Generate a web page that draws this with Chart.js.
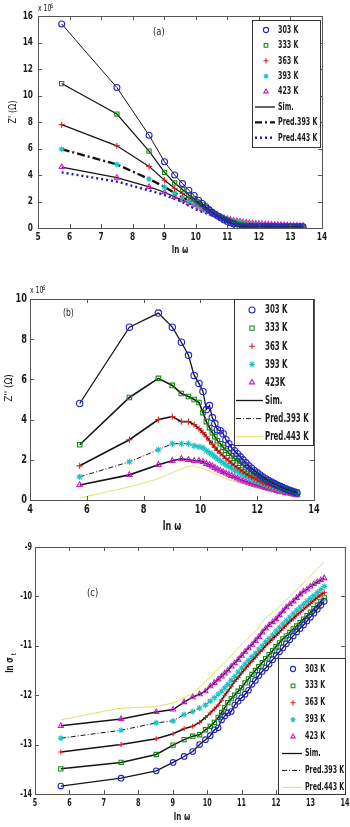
<!DOCTYPE html>
<html>
<head>
<meta charset="utf-8">
<script src="https://cdn.jsdelivr.net/npm/chart.js@4.4.1/dist/chart.umd.min.js"></script>
<style>
  html, body { margin: 0; padding: 0; background: #fff; }
  body { width: 350px; height: 827px; position: relative; overflow: hidden; }
  .panel { position: absolute; left: 0; width: 350px; }
</style>
</head>
<body>
<div class="panel" style="top:0;height:270px"><canvas id="chartA" width="350" height="270"></canvas></div>
<div class="panel" style="top:270px;height:270px"><canvas id="chartB" width="350" height="270"></canvas></div>
<div class="panel" style="top:540px;height:287px"><canvas id="chartC" width="350" height="287"></canvas></div>
<script>
// ln(omega) of the measured points (shared by all temperatures)
const lnW = [5.75, 7.5, 8.52, 9.01, 9.33, 9.58, 9.78, 9.95, 10.09, 10.21, 10.32, 10.42, 10.51, 10.6, 10.7, 10.8, 10.9,
  11.0, 11.1, 11.2, 11.3, 11.4, 11.5, 11.6, 11.7, 11.8, 11.9, 12.0, 12.1, 12.2, 12.3, 12.4, 12.5, 12.6, 12.7, 12.8,
  12.9, 13.0, 13.1, 13.2, 13.3, 13.4];
const temps = ['303 K', '333 K', '363 K', '393 K', '423 K'];

// (a) Z' x 10^6 ohm
const zRe303 = [15.4, 10.6, 7.0, 5.0, 4.0, 3.35, 2.85, 2.45, 2.1, 1.85, 1.6, 1.4, 1.2, 1.05, 0.9, 0.75, 0.6, 0.5, 0.4, 0.3,
  0.15, 0.12, 0.1, 0.1, 0.1, 0.1, 0.1, 0.1, 0.1, 0.1, 0.1, 0.1, 0.1, 0.1, 0.1, 0.1, 0.1, 0.1, 0.1, 0.1, 0.1, 0.1];
const zRe333 = [10.9, 8.6, 5.8, 4.2, 3.4, 2.9, 2.5, 2.2, 1.95, 1.75, 1.55, 1.38, 1.22, 1.08, 0.93, 0.8, 0.68, 0.57, 0.47,
  0.38, 0.3, 0.25, 0.2, 0.18, 0.16, 0.15, 0.14, 0.13, 0.12, 0.12, 0.11, 0.11, 0.1, 0.1, 0.1, 0.1, 0.1, 0.1, 0.1, 0.1, 0.1, 0.1];
const zRe363 = [7.8, 6.2, 4.65, 3.6, 3.0, 2.6, 2.3, 2.05, 1.85, 1.65, 1.5, 1.35, 1.2, 1.07, 0.95, 0.83, 0.72, 0.62, 0.53,
  0.45, 0.38, 0.33, 0.29, 0.26, 0.23, 0.21, 0.19, 0.18, 0.17, 0.16, 0.15, 0.14, 0.13, 0.12, 0.12, 0.11, 0.11, 0.1, 0.1, 0.1, 0.1, 0.1];
const zRe393 = [5.95, 4.8, 3.7, 3.1, 2.65, 2.3, 2.05, 1.85, 1.68, 1.52, 1.4, 1.28, 1.16, 1.05, 0.94, 0.84, 0.75, 0.67,
  0.59, 0.52, 0.46, 0.41, 0.36, 0.32, 0.28, 0.25, 0.22, 0.2, 0.18, 0.16, 0.14, 0.13, 0.12, 0.11, 0.1, 0.09, 0.08, 0.08,
  0.07, 0.07, 0.06, 0.06];
const zRe423 = [4.6, 3.8, 3.1, 2.7, 2.35, 2.1, 1.9, 1.72, 1.57, 1.43, 1.32, 1.21, 1.1, 1.0, 0.92, 0.84, 0.76, 0.69, 0.63,
  0.57, 0.52, 0.48, 0.44, 0.41, 0.38, 0.36, 0.34, 0.32, 0.3, 0.28, 0.27, 0.26, 0.25, 0.24, 0.23, 0.22, 0.21, 0.2, 0.19,
  0.18, 0.17, 0.16];
const predReX = [5.75, 7.5, 8.5, 9.0, 9.5, 10.0, 10.5, 11.0, 11.5, 12.0, 12.5, 13.0, 13.4];
const predRe443 = [4.2, 3.5, 2.85, 2.5, 2.05, 1.4, 0.95, 0.6, 0.35, 0.2, 0.13, 0.1, 0.08];

// (b) Z'' x 10^6 ohm
const zIm303 = [4.8, 8.6, 9.3, 8.6, 7.85, 7.2, 6.2, 5.8, 5.4, 4.5, 4.7, 4.1, 3.8, 3.5, 3.45, 3.3, 3.0, 2.8, 2.6, 2.45,
  2.3, 2.15, 2.0, 1.85, 1.7, 1.58, 1.46, 1.35, 1.25, 1.15, 1.05, 0.97, 0.89, 0.82, 0.75, 0.68, 0.62, 0.56, 0.5, 0.45, 0.4, 0.35];
const zIm333 = [2.75, 5.1, 6.05, 5.7, 5.3, 5.15, 5.0, 4.85, 4.35, 3.9, 3.6, 3.35, 3.15, 2.95, 2.8, 2.62, 2.47, 2.33, 2.2,
  2.07, 1.95, 1.83, 1.72, 1.61, 1.51, 1.41, 1.32, 1.23, 1.15, 1.07, 1.0, 0.93, 0.86, 0.8, 0.74, 0.68, 0.62, 0.57, 0.52,
  0.47, 0.42, 0.38];
const zIm363 = [1.7, 3.0, 4.0, 4.15, 3.9, 3.9, 3.75, 3.55, 3.35, 3.15, 2.95, 2.78, 2.62, 2.47, 2.33, 2.2, 2.07, 1.95,
  1.83, 1.72, 1.61, 1.51, 1.41, 1.32, 1.23, 1.15, 1.07, 1.0, 0.93, 0.86, 0.8, 0.74, 0.68, 0.62, 0.57, 0.52, 0.47, 0.43,
  0.39, 0.35, 0.32, 0.29];
const zIm393 = [1.15, 1.9, 2.5, 2.8, 2.8, 2.8, 2.7, 2.65, 2.6, 2.45, 2.35, 2.25, 2.15, 2.05, 1.95, 1.85, 1.75, 1.66,
  1.57, 1.49, 1.41, 1.33, 1.26, 1.19, 1.12, 1.05, 0.99, 0.93, 0.87, 0.81, 0.76, 0.71, 0.66, 0.61, 0.57, 0.52, 0.48, 0.44,
  0.4, 0.36, 0.33, 0.3];
const zIm423 = [0.75, 1.25, 1.75, 1.95, 2.05, 2.0, 1.95, 1.95, 1.9, 1.8, 1.75, 1.68, 1.6, 1.53, 1.46, 1.39, 1.32, 1.26,
  1.2, 1.14, 1.08, 1.02, 0.97, 0.92, 0.87, 0.82, 0.77, 0.73, 0.69, 0.65, 0.61, 0.57, 0.53, 0.49, 0.45, 0.42, 0.39, 0.36,
  0.33, 0.3, 0.27, 0.25];
const predImX = [5.75, 7.5, 8.5, 9.0, 9.5, 9.7, 10.0, 10.3, 10.5, 11.0, 11.5, 12.0, 12.5, 13.0, 13.4];
const predIm443 = [0.1, 0.65, 1.05, 1.35, 1.65, 1.7, 1.6, 1.45, 1.3, 1.0, 0.8, 0.6, 0.45, 0.3, 0.2];

// (c) ln sigma
const sig303 = [-13.84, -13.68, -13.53, -13.36, -13.24, -13.14, -13.0, -12.9, -12.82, -12.7, -12.66, -12.5, -12.42,
  -12.36, -12.33, -12.2, -12.12, -12.05, -11.98, -11.9, -11.78, -11.7, -11.6, -11.52, -11.45, -11.37, -11.28, -11.2,
  -11.12, -11.04, -10.96, -10.88, -10.8, -10.72, -10.65, -10.58, -10.5, -10.42, -10.34, -10.26, -10.18, -10.1];
const sig333 = [-13.49, -13.36, -13.2, -13.01, -12.9, -12.83, -12.8, -12.7, -12.63, -12.55, -12.45, -12.35, -12.25,
  -12.15, -12.07, -12.0, -11.92, -11.85, -11.75, -11.67, -11.58, -11.5, -11.42, -11.34, -11.26, -11.18, -11.1, -11.02,
  -10.94, -10.86, -10.8, -10.73, -10.66, -10.6, -10.53, -10.46, -10.39, -10.32, -10.25, -10.18, -10.1, -10.03];
const sig363 = [-13.15, -13.0, -12.88, -12.78, -12.68, -12.63, -12.55, -12.45, -12.36, -12.28, -12.2, -12.1, -12.0,
  -11.92, -11.82, -11.72, -11.64, -11.55, -11.47, -11.39, -11.31, -11.23, -11.15, -11.08, -11.0, -10.93, -10.86, -10.79,
  -10.72, -10.65, -10.58, -10.51, -10.45, -10.38, -10.32, -10.26, -10.2, -10.14, -10.08, -10.02, -9.97, -9.92];
const sig393 = [-12.87, -12.71, -12.56, -12.52, -12.39, -12.33, -12.26, -12.2, -12.12, -12.05, -11.98, -11.92, -11.85,
  -11.78, -11.7, -11.62, -11.53, -11.45, -11.37, -11.3, -11.22, -11.15, -11.07, -11.0, -10.92, -10.85, -10.78, -10.7,
  -10.63, -10.56, -10.49, -10.42, -10.35, -10.28, -10.22, -10.16, -10.1, -10.04, -9.98, -9.92, -9.86, -9.8];
const sig423 = [-12.62, -12.48, -12.34, -12.29, -12.14, -12.04, -11.98, -11.92, -11.82, -11.75, -11.68, -11.62, -11.56,
  -11.5, -11.42, -11.35, -11.28, -11.2, -11.12, -11.05, -10.98, -10.9, -10.82, -10.73, -10.65, -10.58, -10.52, -10.46,
  -10.38, -10.3, -10.22, -10.16, -10.1, -10.03, -9.96, -9.9, -9.86, -9.8, -9.75, -9.71, -9.67, -9.63];
const predSigX = [5.75, 7.4, 8.5, 9.0, 9.6, 10.1, 10.6, 10.95, 11.45, 11.65, 12.0, 12.5, 12.9, 13.4];
const predSig443 = [-12.5, -12.27, -12.23, -12.16, -11.96, -11.62, -11.28, -11.01, -10.67, -10.47, -10.27, -9.93, -9.66, -9.3];

const FONT = "'DejaVu Sans Condensed', 'Liberation Sans Narrow', sans-serif";
const markers = [
  { color: '#2323c8', style: 'circle' },
  { color: '#138a13', style: 'rect' },
  { color: '#e01e1e', style: 'cross' },
  { color: '#1ec4c4', style: 'star' },
  { color: '#c81ec8', style: 'triangle' }
];

function xy(xs, ys) {
  return xs.map((x, i) => ({ x: x, y: ys[i] }));
}

function markerSet(i, ys, lw, dash, r) {
  return {
    label: temps[i],
    data: xy(lnW, ys),
    showLine: true,
    borderColor: '#151515',
    borderWidth: lw,
    borderDash: dash,
    pointStyle: markers[i].style,
    pointRadius: r,
    pointBorderColor: markers[i].color,
    pointBackgroundColor: 'rgba(0,0,0,0)',
    pointBorderWidth: 1.1,
    tension: 0
  };
}

// narrow text: the original figure uses a condensed font, so squeeze horizontally
function drawText(ctx, text, x, y, font, align, squeeze, rotate) {
  ctx.save();
  ctx.font = font;
  ctx.fillStyle = '#1a1a1a';
  ctx.textBaseline = 'middle';
  ctx.textAlign = align || 'left';
  ctx.translate(x, y);
  if (rotate) ctx.rotate(rotate);
  ctx.scale(squeeze || 1, 1);
  ctx.fillText(text, 0, 0);
  ctx.restore();
}

// frame, inward ticks, tick labels, legend box and free texts
const decorPlugin = {
  id: 'decor',
  afterDraw(chart, args, opts) {
    const ctx = chart.ctx;
    const a = chart.chartArea;
    const sx = chart.scales.x, sy = chart.scales.y;
    const tk = opts.ticks;
    ctx.save();
    ctx.strokeStyle = '#555';
    ctx.lineWidth = 1;
    ctx.strokeRect(a.left + 0.5, a.top + 0.5, a.right - a.left, a.bottom - a.top);
    ctx.beginPath();
    sx.ticks.forEach(t => {
      const p = Math.round(sx.getPixelForValue(t.value)) + 0.5;
      ctx.moveTo(p, a.bottom); ctx.lineTo(p, a.bottom - 4);
      ctx.moveTo(p, a.top); ctx.lineTo(p, a.top + 4);
    });
    sy.ticks.forEach(t => {
      const p = Math.round(sy.getPixelForValue(t.value)) + 0.5;
      ctx.moveTo(a.left, p); ctx.lineTo(a.left + 4, p);
      ctx.moveTo(a.right, p); ctx.lineTo(a.right - 4, p);
    });
    ctx.stroke();
    ctx.restore();

    sx.ticks.forEach(t => {
      drawText(ctx, String(t.value), sx.getPixelForValue(t.value), a.bottom + tk.dy, tk.font, 'center', tk.squeeze);
    });
    sy.ticks.forEach(t => {
      drawText(ctx, String(t.value), a.left - tk.dx, sy.getPixelForValue(t.value), tk.font, 'right', tk.squeeze);
    });

    const lg = opts.legend;
    ctx.save();
    ctx.fillStyle = '#fff';
    ctx.fillRect(lg.box[0], lg.box[1], lg.box[2] - lg.box[0], lg.box[3] - lg.box[1]);
    ctx.strokeStyle = '#333';
    ctx.lineWidth = 1;
    ctx.strokeRect(lg.box[0] + 0.5, lg.box[1] + 0.5, lg.box[2] - lg.box[0], lg.box[3] - lg.box[1]);
    lg.rows.forEach((row, k) => {
      const y = lg.top + k * lg.step;
      if (row.marker !== undefined) {
        const m = markers[row.marker];
        ctx.strokeStyle = m.color;
        ctx.fillStyle = 'rgba(0,0,0,0)';
        ctx.lineWidth = 1.1;
        Chart.helpers.drawPoint(ctx, { pointStyle: m.style, radius: lg.r, rotation: 0, borderWidth: 1.1 }, lg.markX, y);
      } else {
        ctx.strokeStyle = row.color;
        ctx.lineWidth = row.width;
        ctx.setLineDash(row.dash);
        ctx.beginPath();
        ctx.moveTo(lg.line[0], y);
        ctx.lineTo(lg.line[1], y);
        ctx.stroke();
        ctx.setLineDash([]);
      }
      drawText(ctx, row.text, lg.textX, y, lg.font, 'left', lg.squeeze);
    });
    ctx.restore();

    opts.texts.forEach(t => drawText(ctx, t.text, t.x, t.y, t.font, t.align, t.squeeze, t.rotate));
  }
};

function makePanel(id, p) {
  new Chart(document.getElementById(id), {
    type: 'scatter',
    data: { datasets: p.datasets },
    plugins: [decorPlugin],
    options: {
      responsive: false,
      animation: false,
      devicePixelRatio: 1,
      layout: { padding: { top: p.pad.top, right: p.pad.right, left: 0, bottom: 0 } },
      plugins: {
        legend: { display: false },
        tooltip: { enabled: false },
        decor: { legend: p.legend, texts: p.texts, ticks: p.ticks }
      },
      scales: {
        x: {
          type: 'linear', min: p.x[0], max: p.x[1],
          grid: { display: false, drawTicks: false },
          border: { display: false },
          ticks: { stepSize: p.x[2], display: false },
          afterFit(s) { s.height = p.axisH; s.paddingLeft = 0; s.paddingRight = 0; }
        },
        y: {
          type: 'linear', min: p.y[0], max: p.y[1],
          grid: { display: false, drawTicks: false },
          border: { display: false },
          ticks: { stepSize: p.y[2], display: false },
          afterFit(s) { s.width = p.axisW; s.paddingTop = 0; s.paddingBottom = 0; }
        }
      }
    }
  });
}

function legendRows(s) {
  return [
    { marker: 0, text: '303 K' }, { marker: 1, text: '333 K' }, { marker: 2, text: '363 K' },
    { marker: 3, text: '393 K' }, { marker: 4, text: s.t423 },
    { text: 'Sim.', color: '#151515', width: 1.3, dash: [] },
    { text: 'Pred.393 K', color: '#151515', width: s.dash393w, dash: s.dash393 },
    { text: 'Pred.443 K', color: s.color, width: s.width, dash: s.dash }
  ];
}

// (a)
makePanel('chartA', {
  x: [5, 14, 1], y: [0, 16, 2], axisW: 38, axisH: 42,
  pad: { top: 16, right: 28 },
  ticks: { font: 'bold 11px ' + FONT, squeeze: 0.75, dx: 5, dy: 9 },
  datasets: [
    markerSet(0, zRe303, 1, [], 3),
    markerSet(1, zRe333, 1.2, [], 3),
    markerSet(2, zRe363, 1.2, [], 3),
    markerSet(3, zRe393, 2.4, [8, 3, 2, 3], 3),
    markerSet(4, zRe423, 1.2, [], 3),
    { label: 'Pred.443 K', data: xy(predReX, predRe443), showLine: true, borderColor: '#1c1ca8',
      borderWidth: 2.4, borderDash: [2, 3], pointRadius: 0 }
  ],
  legend: {
    box: [252, 20, 320, 147], top: 30, step: 15.4, r: 2.6, markX: 266, textX: 278, line: [255, 275],
    font: 'bold 11px ' + FONT, squeeze: 0.64,
    rows: legendRows({ t423: '423 K', dash393: [7, 3, 2, 3], dash393w: 2.4, color: '#1c1ca8', width: 2.4, dash: [2, 3] })
  },
  texts: [
    { text: '(a)', x: 153, y: 32, font: '11px ' + FONT, squeeze: 0.85 },
    { text: 'x 10', x: 38, y: 9, font: '8px ' + FONT, squeeze: 0.85 },
    { text: '6', x: 50, y: 6, font: '6px ' + FONT },
    { text: 'ln ω', x: 180, y: 250, font: 'bold 10px ' + FONT, align: 'center', squeeze: 0.8 },
    { text: "Z' (Ω)", x: 13, y: 112, font: '10px ' + FONT, align: 'center', rotate: -Math.PI / 2, squeeze: 0.9 }
  ]
});

// (b)
makePanel('chartB', {
  x: [4, 14, 2], y: [0, 10, 2], axisW: 30, axisH: 40,
  pad: { top: 29, right: 36 },
  ticks: { font: 'bold 13px ' + FONT, squeeze: 0.7, dx: 3, dy: 10 },
  datasets: [
    markerSet(0, zIm303, 1.3, [], 3.2),
    markerSet(1, zIm333, 1.6, [], 3.2),
    markerSet(2, zIm363, 1.6, [], 3.2),
    markerSet(3, zIm393, 1, [5, 2, 1, 2], 3.2),
    markerSet(4, zIm423, 1.6, [], 3.2),
    { label: 'Pred.443 K', data: xy(predImX, predIm443), showLine: true, borderColor: '#e0e070',
      borderWidth: 1, pointRadius: 0 }
  ],
  legend: {
    box: [234, 29, 313, 175], top: 40, step: 18.1, r: 3, markX: 252, textX: 265, line: [236, 263],
    font: 'bold 13px ' + FONT, squeeze: 0.6,
    rows: legendRows({ t423: '423K', dash393: [5, 2, 1, 2], dash393w: 1, color: '#e0e070', width: 1, dash: [] })
  },
  texts: [
    { text: '(b)', x: 63, y: 43, font: '10px ' + FONT, squeeze: 0.85 },
    { text: 'x 10', x: 30, y: 21, font: '8px ' + FONT, squeeze: 0.85 },
    { text: '6', x: 42, y: 18, font: '6px ' + FONT },
    { text: 'ln ω', x: 172, y: 257, font: 'bold 12px ' + FONT, align: 'center', squeeze: 0.75 },
    { text: "Z'' (Ω)", x: 9, y: 118, font: '11px ' + FONT, align: 'center', rotate: -Math.PI / 2, squeeze: 0.9 }
  ]
});

// (c)
makePanel('chartC', {
  x: [5, 14, 1], y: [-14, -9, 1], axisW: 35, axisH: 33,
  pad: { top: 7, right: 5 },
  ticks: { font: 'bold 10px ' + FONT, squeeze: 0.72, dx: 3, dy: 9 },
  datasets: [
    markerSet(0, sig303, 1.3, [], 2.8),
    markerSet(1, sig333, 1.5, [], 3),
    markerSet(2, sig363, 1.5, [], 2.5),
    markerSet(3, sig393, 1, [5, 2, 1, 2], 3),
    markerSet(4, sig423, 1.5, [], 3),
    { label: 'Pred.443 K', data: xy(predSigX, predSig443), showLine: true, borderColor: '#e0e070',
      borderWidth: 1, pointRadius: 0 }
  ],
  legend: {
    box: [278, 118, 345, 254], top: 129, step: 16.9, r: 2.6, markX: 293, textX: 305, line: [282, 302],
    font: 'bold 10px ' + FONT, squeeze: 0.7,
    rows: legendRows({ t423: '423 K', dash393: [5, 2, 1, 2], dash393w: 1, color: '#e0e070', width: 1, dash: [] })
  },
  texts: [
    { text: '(c)', x: 87, y: 53, font: '11px ' + FONT, squeeze: 0.85 },
    { text: 'ln ω', x: 182, y: 277, font: 'bold 10px ' + FONT, align: 'center', squeeze: 0.8 },
    { text: 'ln σ', x: 10, y: 125, font: 'bold 10px ' + FONT, align: 'center', rotate: -Math.PI / 2, squeeze: 0.8 },
    { text: 't', x: 14, y: 114, font: '7px ' + FONT, align: 'center', rotate: -Math.PI / 2 }
  ]
});
</script>
</body>
</html>
